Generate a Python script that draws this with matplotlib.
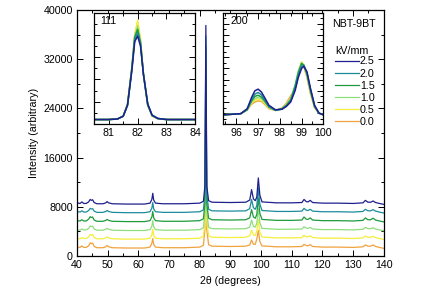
import matplotlib
matplotlib.use('Agg')
import matplotlib.pyplot as plt
from matplotlib.ticker import MultipleLocator, NullFormatter

plt.rcParams['font.family'] = ['Liberation Sans', 'DejaVu Sans']
plt.rcParams['font.size'] = 7.7

# field values (kV/mm), legend order top -> bottom
FIELDS = ['2.5', '2.0', '1.5', '1.0', '0.5', '0.0']
COLORS = ['#1f1f8e', '#1c8c9c', '#1f9a3c', '#8ede7c', '#f4ee3c', '#f0a23e']
# vertical stacking offsets of each trace
OFFSETS = [8400, 7000, 5550, 4100, 2700, 1250]

# full pattern: 2theta points and intensity above each trace's offset
X_MAIN = [40, 41, 41.6, 42.2, 43, 43.8, 44.3, 44.7, 45.1, 45.6,
          46.5, 48.5, 49.4, 49.8, 50.3, 51.5, 56, 62, 63.8, 64.4,
          64.7, 65.0, 65.6, 68, 75, 80, 81.2, 81.7, 82.0, 82.3,
          82.9, 84, 90, 95, 96.3, 96.9, 97.5, 98.1, 98.6, 99.1,
          99.6, 100.3, 105, 110, 113.3, 114.0, 114.7, 115.3, 116.0, 116.8,
          120, 125, 130, 133.2, 134.0, 134.8, 135.7, 136.5, 137.3, 139, 140]
I_25 = [250, 150, 400, 150, 150, 400, 800, 650, 750, 300,
        100, 100, 250, 450, 250, 100, 50, 50, 200, 800,
        1800, 700, 200, 100, 100, 200, 500, 3000, 29100, 3000,
        600, 350, 300, 350, 700, 2400, 900, 600, 1200, 4300,
        1500, 400, 250, 250, 300, 800, 450, 400, 650, 300,
        200, 200, 150, 250, 650, 350, 350, 550, 300, 100, 0]
I_20 = [250, 150, 350, 150, 150, 400, 750, 650, 700, 300,
        100, 100, 250, 400, 250, 100, 50, 50, 200, 800,
        1700, 650, 200, 100, 100, 200, 500, 3000, 28800, 3000,
        600, 350, 300, 350, 700, 2200, 850, 600, 1200, 4100,
        1450, 400, 250, 250, 300, 750, 450, 400, 600, 300,
        200, 200, 150, 250, 600, 350, 350, 550, 300, 100, 0]
I_15 = [200, 150, 350, 150, 150, 450, 850, 700, 800, 300,
        100, 100, 250, 400, 250, 100, 50, 50, 200, 800,
        1700, 650, 200, 100, 100, 200, 500, 3000, 28600, 3000,
        600, 350, 300, 350, 650, 2000, 800, 600, 1200, 3900,
        1400, 400, 250, 250, 300, 800, 450, 400, 650, 300,
        200, 200, 150, 250, 650, 350, 350, 600, 300, 100, 0]
I_10 = [150, 100, 300, 150, 150, 400, 800, 700, 750, 300,
        100, 100, 250, 400, 250, 100, 50, 50, 200, 750,
        1650, 650, 200, 100, 100, 200, 500, 3000, 28400, 3000,
        600, 350, 300, 350, 600, 1750, 750, 600, 1250, 3600,
        1300, 400, 250, 250, 300, 650, 450, 400, 550, 300,
        200, 200, 150, 250, 550, 350, 350, 500, 300, 100, 0]
I_05 = [150, 100, 300, 150, 150, 400, 800, 700, 800, 300,
        100, 100, 250, 400, 250, 100, 50, 50, 200, 750,
        1650, 650, 200, 100, 100, 200, 500, 3000, 28200, 3000,
        600, 350, 300, 350, 600, 1500, 700, 650, 1400, 3200,
        1200, 400, 250, 250, 300, 650, 450, 400, 600, 300,
        200, 200, 150, 250, 550, 350, 350, 500, 300, 100, 0]
I_00 = [200, 150, 400, 150, 150, 400, 900, 750, 850, 300,
        100, 100, 250, 450, 250, 100, 50, 50, 200, 800,
        1600, 650, 200, 100, 100, 200, 500, 3000, 28000, 3000,
        600, 350, 300, 350, 550, 1350, 650, 650, 1500, 2900,
        1100, 400, 250, 250, 300, 650, 450, 400, 600, 300,
        200, 200, 150, 250, 550, 350, 350, 550, 300, 100, 0]
MAIN = [I_25, I_20, I_15, I_10, I_05, I_00]

# inset (111), normalised
X_111 = [80.5, 81.0, 81.3, 81.5, 81.65, 81.8, 81.9, 82.0, 82.1, 82.2,
         82.35, 82.5, 82.7, 83.0, 83.5, 84.0]
P111 = [
    [0.04, 0.04, 0.045, 0.07, 0.17, 0.48, 0.74, 0.79, 0.70, 0.45, 0.18, 0.08, 0.05, 0.04, 0.04, 0.04],
    [0.04, 0.04, 0.045, 0.07, 0.17, 0.49, 0.76, 0.82, 0.72, 0.45, 0.18, 0.08, 0.05, 0.04, 0.04, 0.04],
    [0.04, 0.04, 0.045, 0.07, 0.17, 0.50, 0.78, 0.85, 0.73, 0.45, 0.17, 0.075, 0.048, 0.04, 0.04, 0.04],
    [0.04, 0.04, 0.045, 0.07, 0.17, 0.50, 0.79, 0.88, 0.74, 0.45, 0.17, 0.075, 0.048, 0.04, 0.04, 0.04],
    [0.04, 0.04, 0.045, 0.07, 0.18, 0.51, 0.80, 0.93, 0.76, 0.45, 0.17, 0.075, 0.048, 0.04, 0.04, 0.04],
    [0.04, 0.04, 0.045, 0.07, 0.18, 0.51, 0.80, 0.91, 0.75, 0.45, 0.17, 0.075, 0.048, 0.04, 0.04, 0.04],
]

# inset (200), normalised
X_200 = [95.4, 95.8, 96.2, 96.5, 96.7, 96.85, 97.0, 97.15, 97.3, 97.5,
         97.8, 98.1, 98.3, 98.5, 98.7, 98.85, 99.0, 99.1, 99.25, 99.4,
         99.6, 99.8, 100.0]
P200 = [
    [0.085, 0.09, 0.095, 0.14, 0.24, 0.30, 0.315, 0.29, 0.24, 0.17, 0.13, 0.135, 0.16, 0.20, 0.30, 0.42, 0.50, 0.52, 0.47, 0.33, 0.17, 0.10, 0.085],
    [0.085, 0.09, 0.095, 0.135, 0.22, 0.27, 0.285, 0.265, 0.22, 0.16, 0.125, 0.135, 0.165, 0.21, 0.32, 0.44, 0.52, 0.53, 0.46, 0.32, 0.16, 0.10, 0.085],
    [0.085, 0.09, 0.095, 0.13, 0.21, 0.25, 0.26, 0.245, 0.21, 0.155, 0.125, 0.14, 0.17, 0.22, 0.34, 0.46, 0.545, 0.53, 0.45, 0.31, 0.16, 0.10, 0.085],
    [0.085, 0.09, 0.095, 0.13, 0.20, 0.23, 0.24, 0.23, 0.20, 0.15, 0.125, 0.14, 0.175, 0.23, 0.35, 0.48, 0.55, 0.53, 0.44, 0.30, 0.155, 0.10, 0.085],
    [0.085, 0.09, 0.095, 0.13, 0.19, 0.215, 0.225, 0.215, 0.19, 0.145, 0.125, 0.14, 0.18, 0.235, 0.33, 0.47, 0.56, 0.53, 0.43, 0.29, 0.15, 0.10, 0.085],
    [0.085, 0.09, 0.095, 0.13, 0.18, 0.20, 0.21, 0.205, 0.18, 0.14, 0.125, 0.145, 0.19, 0.255, 0.31, 0.44, 0.55, 0.52, 0.42, 0.28, 0.15, 0.10, 0.085],
]


def style(ax):
    ax.tick_params(which='both', direction='in', top=True, right=True, pad=3)
    ax.tick_params(which='major', length=4, width=0.7)
    ax.tick_params(which='minor', length=2.2, width=0.7)
    for s in ax.spines.values():
        s.set_linewidth(0.9)


def main():
    fig = plt.figure(figsize=(4.46, 2.97), dpi=100)
    ax = fig.add_axes([0.1726, 0.138, 0.688, 0.828])

    handles = [None] * len(FIELDS)
    for i in reversed(range(len(FIELDS))):
        y = [v + OFFSETS[i] for v in MAIN[i]]
        handles[i], = ax.plot(X_MAIN, y, color=COLORS[i], lw=0.9)
    ax.set_xlim(40, 140)
    ax.set_ylim(0, 40000)
    ax.xaxis.set_major_locator(MultipleLocator(10))
    ax.xaxis.set_minor_locator(MultipleLocator(5))
    ax.yaxis.set_major_locator(MultipleLocator(8000))
    ax.yaxis.set_minor_locator(MultipleLocator(4000))
    style(ax)
    ax.set_xlabel('2θ (degrees)', labelpad=4)
    ax.set_ylabel('Intensity (arbitrary)', labelpad=3)

    leg = ax.legend(handles, FIELDS, title='kV/mm', loc='upper left',
                    bbox_to_anchor=(0.842, 0.855), frameon=False,
                    handlelength=2.2, handletextpad=0.1, labelspacing=0.2,
                    borderaxespad=0, borderpad=0, fontsize=7.7,
                    title_fontsize=7.7)
    leg._legend_box.align = 'left'
    leg._legend_box.sep = 0.5
    ax.text(0.975, 0.965, 'NBT-9BT', transform=ax.transAxes, ha='right',
            va='top', fontsize=7.7)

    # inset 111
    a1 = fig.add_axes([0.2115, 0.5825, 0.2265, 0.3747])
    for i in reversed(range(len(FIELDS))):
        a1.plot(X_111, P111[i], color=COLORS[i], lw=1.1)
    a1.set_xlim(80.5, 84)
    a1.set_ylim(0, 1)
    a1.xaxis.set_major_locator(MultipleLocator(1))
    a1.xaxis.set_minor_locator(MultipleLocator(0.5))
    a1.yaxis.set_major_locator(MultipleLocator(0.2))
    a1.yaxis.set_minor_locator(MultipleLocator(0.1))
    a1.yaxis.set_major_formatter(NullFormatter())
    style(a1)
    a1.text(0.06, 0.97, '111', transform=a1.transAxes, ha='left', va='top')

    # inset 200
    a2 = fig.add_axes([0.5007, 0.5815, 0.2242, 0.3758])
    for i in reversed(range(len(FIELDS))):
        a2.plot(X_200, P200[i], color=COLORS[i], lw=1.1)
    a2.set_xlim(95.4, 100)
    a2.set_ylim(0, 1)
    a2.xaxis.set_major_locator(MultipleLocator(1))
    a2.xaxis.set_minor_locator(MultipleLocator(0.5))
    a2.yaxis.set_major_locator(MultipleLocator(0.1))
    a2.yaxis.set_minor_locator(MultipleLocator(0.05))
    a2.yaxis.set_major_formatter(NullFormatter())
    style(a2)
    a2.text(0.07, 0.97, '200', transform=a2.transAxes, ha='left', va='top')

    fig.savefig('out.png', dpi=100)


if __name__ == '__main__':
    main()
